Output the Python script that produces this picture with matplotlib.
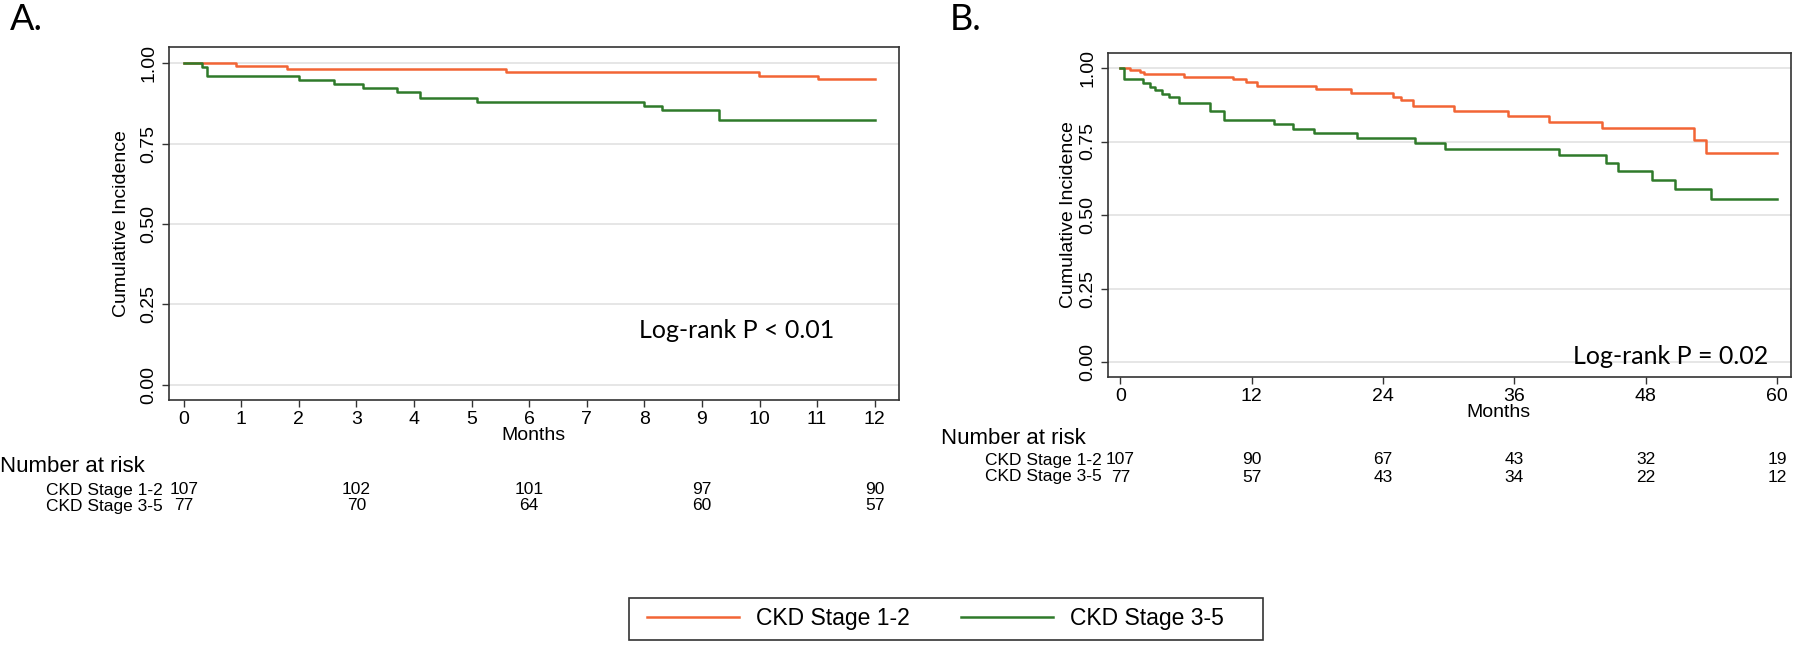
import matplotlib
matplotlib.use("Agg")
import matplotlib.pyplot as plt
import matplotlib.transforms as mtransforms
from matplotlib.lines import Line2D
from matplotlib.patches import Rectangle

# Panel A: months 0-12
a_t_stage12 = [0, 0.91, 1.80, 5.60, 9.99, 11.01, 12.0]
a_s_stage12 = [1.0, 0.991, 0.981, 0.971, 0.961, 0.951, 0.951]
a_t_stage35 = [0, 0.31, 0.40, 2.01, 2.61, 3.11, 3.70, 4.10, 5.09, 7.99, 8.30, 9.29, 12.0]
a_s_stage35 = [1.0, 0.988, 0.961, 0.948, 0.935, 0.922, 0.909, 0.891, 0.878, 0.866, 0.853, 0.824, 0.824]
a_xticks = list(range(0, 13))
a_risk_times = [0, 3, 6, 9, 12]
a_risk_stage12 = [107, 102, 101, 97, 90]
a_risk_stage35 = [77, 70, 64, 60, 57]

# Panel B: months 0-60
b_t_stage12 = [0, 0.85, 1.77, 2.14, 5.83, 10.3, 11.5, 12.5, 17.9, 21.1, 24.9, 25.6, 26.7,
               30.5, 35.4, 39.2, 44.0, 52.4, 53.5, 60.0]
b_s_stage12 = [1.0, 0.993, 0.986, 0.981, 0.969, 0.962, 0.952, 0.939, 0.927, 0.914, 0.903, 0.890, 0.872,
               0.855, 0.836, 0.816, 0.796, 0.755, 0.711, 0.711]
b_t_stage35 = [0, 0.3, 2.1, 2.7, 3.2, 3.8, 4.4, 5.4, 8.2, 9.5, 14.0, 15.8, 17.7, 21.6, 26.9, 29.7,
               40.1, 44.4, 45.5, 48.6, 50.7, 54.0, 60.0]
b_s_stage35 = [1.0, 0.962, 0.949, 0.937, 0.924, 0.912, 0.900, 0.880, 0.853, 0.824, 0.808, 0.794, 0.779,
               0.762, 0.745, 0.725, 0.705, 0.676, 0.648, 0.620, 0.590, 0.555, 0.555]
b_xticks = [0, 12, 24, 36, 48, 60]
b_risk_times = [0, 12, 24, 36, 48, 60]
b_risk_stage12 = [107, 90, 67, 43, 32, 19]
b_risk_stage35 = [77, 57, 43, 34, 22, 12]

yticks = [0.0, 0.25, 0.5, 0.75, 1.0]
group_labels = ["CKD Stage 1-2", "CKD Stage 3-5"]

orange = "#f26535"
green = "#2f7a2a"
sans = ["Liberation Sans", "DejaVu Sans"]
calibri_like = ["Lato", "Open Sans", "DejaVu Sans"]

plt.rcParams['font.family'] = sans

fig = plt.figure(figsize=(18, 6.56), dpi=100)
W, H = 1568.0, 656.0  # layout measured in these units


def fx(p):
    return p / W


def fy(p):
    return 1 - p / H


def make_panel(rect, xlim, xticks, ylim, ylabelpad):
    ax = fig.add_axes(rect)
    ax.set_xlim(*xlim)
    ax.set_ylim(*ylim)
    ax.set_yticks(yticks)
    ax.set_yticklabels(["%.2f" % v for v in yticks], rotation=90, va="center", fontsize=14)
    ax.set_xticks(xticks)
    ax.set_xticklabels([str(v) for v in xticks], fontsize=14)
    for v in yticks:
        ax.axhline(v, color="#e4e4e4", lw=1.3, zorder=0)
    for s in ax.spines.values():
        s.set_color("#333333")
        s.set_linewidth(1.2)
    ax.tick_params(axis="both", direction="out", length=5, width=1, color="#333333", pad=3)
    ax.set_xlabel("Months", fontsize=14, labelpad=-1)
    ax.set_ylabel("Cumulative Incidence", fontsize=14, labelpad=ylabelpad)
    return ax


# Panel A
axA = make_panel([fx(147), 1 - 400 / H, fx(783) - fx(147), 353 / H],
                 (-0.26, 12.42), a_xticks, (-0.047, 1.05), 8)
axA.step(a_t_stage12, a_s_stage12, where="post", color=orange, lw=1.8)
axA.step(a_t_stage35, a_s_stage35, where="post", color=green, lw=1.8)

# Panel B
axB = make_panel([fx(965), 1 - 376.7 / H, 0.995 - fx(965), 323.4 / H],
                 (-1.15, 61.27), b_xticks, (-0.05, 1.05), 2)
axB.step(b_t_stage12, b_s_stage12, where="post", color=orange, lw=1.8)
axB.step(b_t_stage35, b_s_stage35, where="post", color=green, lw=1.8)
axB.xaxis.set_label_coords(0.572, -0.085)

# Panel letters and log-rank text
fig.text(fx(9), fy(20), "A.", fontsize=26, family=calibri_like, va="center", ha="left")
fig.text(fx(827), fy(20), "B.", fontsize=26, family=calibri_like, va="center", ha="left")
fig.text(fx(642), fy(330), "Log-rank P < 0.01", fontsize=18, family=calibri_like, va="center", ha="center")
fig.text(fx(1455), fy(356), "Log-rank P = 0.02", fontsize=18, family=calibri_like, va="center", ha="center")


def risk_table(ax, times, r12, r35, title_xy, rows_y, label_x):
    tr = mtransforms.blended_transform_factory(ax.transData, fig.transFigure)
    fig.text(fx(title_xy[0]), fy(title_xy[1]), "Number at risk", fontsize=16,
             ha="left", va="center")
    for lab, vals, yy in zip(group_labels, [r12, r35], rows_y):
        fig.text(fx(label_x), fy(yy), lab, fontsize=12.5, ha="right", va="center")
        for t, v in zip(times, vals):
            ax.text(t, fy(yy), str(v), transform=tr, fontsize=12.5, ha="center", va="center")


risk_table(axA, a_risk_times, a_risk_stage12, a_risk_stage35, (0, 467), (490, 506), 142)
risk_table(axB, b_risk_times, b_risk_stage12, b_risk_stage35, (820, 438), (460, 477), 960)

# Shared legend with its own frame
fig.patches.append(Rectangle((fx(548), fy(640)), fx(1100) - fx(548), 42 / H,
                             transform=fig.transFigure, fill=False, edgecolor="#333333", lw=1.2))
handles = [Line2D([], [], color=orange, lw=1.8), Line2D([], [], color=green, lw=1.8)]
fig.legend(handles, group_labels, loc="center", bbox_to_anchor=(fx(815), fy(619)), ncol=2,
           frameon=False, fontsize=16.5, handlelength=4.0, columnspacing=2.25,
           handletextpad=0.75)

fig.savefig("out.png", dpi=100)
